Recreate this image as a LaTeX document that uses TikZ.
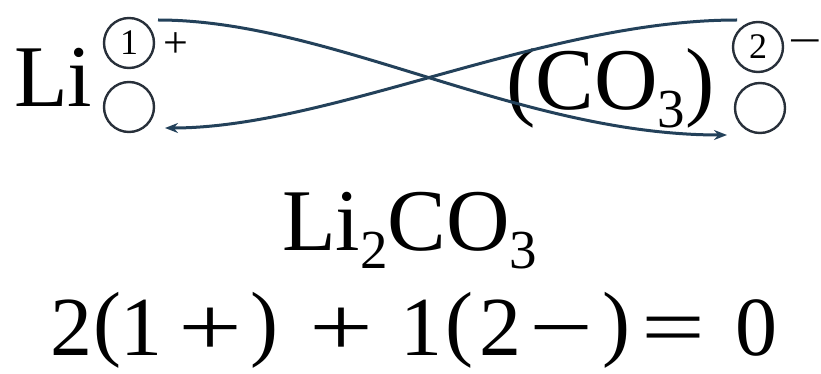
\documentclass[tikz,border=0pt]{standalone}
\usepackage{fontspec}
\setmainfont{Liberation Serif}
\usetikzlibrary{arrows.meta}
\definecolor{curvecol}{RGB}{35,65,90}
\definecolor{ringcol}{RGB}{40,48,58}
\newcommand\subnum[1]{\raisebox{-18pt}{\fontsize{55}{60}\selectfont #1}}
\newcommand\wideop[1]{\scalebox{1.35}[1]{#1}}
\newcommand\lp{\raisebox{5pt}{(}}
\newcommand\rp{\raisebox{5pt}{)}}
\begin{document}
\begin{tikzpicture}[x=1pt,y=-1pt,
  big/.style={inner sep=0pt,outer sep=0pt,font=\fontsize{88}{100}\selectfont},
  eqtext/.style={inner sep=0pt,outer sep=0pt,font=\fontsize{84}{96}\selectfont},
  ring/.style={circle,draw=ringcol,line width=2.4pt,minimum size=50pt,inner sep=0pt,font=\fontsize{36}{40}\selectfont},
  sign/.style={inner sep=0pt,font=\fontsize{44}{50}\selectfont},
  link/.style={draw=curvecol,line width=3pt,-{Stealth[length=13pt,width=10pt]}}]
\useasboundingbox (0,0) rectangle (821,374);
% left ion
\node[big,anchor=base west] (li) at (14,107) {Li};
\node[ring] (r1) at (129,43) {1};
\node[ring] (r1b) at (129,107) {};
\node[sign] (plus) at (176,45) {+};
% right ion
\node[big,anchor=base west] (co3) at (506,110) {(CO\subnum{3})};
\node[ring] (r2) at (758,47) {2};
\node[ring] (r2b) at (760,108) {};
\node[sign] (minus) at (805,48) {\wideop{−}};
% connector ends
\coordinate (a0) at (158,20);
\coordinate (a1) at (727,135);
\coordinate (b0) at (737,20);
\coordinate (b1) at (165,128);
\draw[link] (a0) .. controls (330,20) and (520,135) .. (a1);
\draw[link] (b0) .. controls (545,20) and (330,128) .. (b1);
% formula
\node[big,anchor=base west] (formula) at (282,250) {Li\subnum{2}CO\subnum{3}};
\node[eqtext,anchor=base west] (eq) at (50.5,355) {2\kern0.5pt\lp\kern0pt1\kern15.6pt\wideop{+}\kern8.4pt\rp\kern30.6pt\wideop{+}\kern27.4pt1\kern3pt\lp\kern5.5pt2\kern8pt\wideop{−}\kern9.4pt\rp\kern10.6pt\wideop{=}\kern30pt0};
\end{tikzpicture}
\end{document}
